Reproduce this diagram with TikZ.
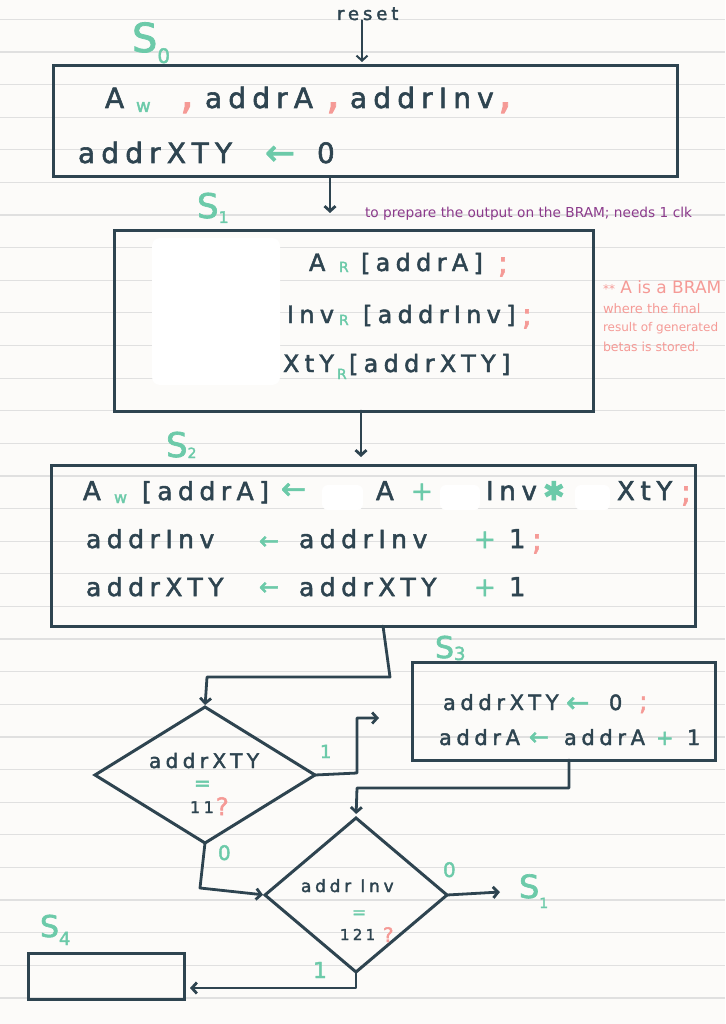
\documentclass[tikz,border=0pt]{standalone}
\usepackage{fontspec}
\setmainfont{DejaVu Sans}
\newfontfamily\hand[LetterSpace=22,FakeBold=2]{DejaVu Sans}
\newfontfamily\scrawl{DejaVu Sans}
\usetikzlibrary{shapes.geometric,arrows.meta}

\definecolor{ink}{RGB}{46,68,80}
\definecolor{mint}{RGB}{108,202,169}
\definecolor{rose}{RGB}{245,154,150}
\definecolor{plum}{RGB}{139,58,139}
\definecolor{ruling}{RGB}{224,224,224}
\definecolor{paper}{RGB}{252,251,249}

\tikzset{
  statebox/.style={draw=ink,line width=3pt,inner sep=0pt,outer sep=0pt},
  decision/.style={diamond,draw=ink,line width=3pt,inner sep=0pt,outer sep=0pt},
  flow/.style={draw=ink,line width=2.8pt,line cap=round,line join=round,-{Straight Barb[length=5pt,width=11pt]}},
  txt/.style={anchor=base west,inner sep=0pt,outer sep=0pt,text=ink},
  sz/.style={font=\hand\fontsize{#1}{#1}\selectfont},
  nt/.style={font=\scrawl\fontsize{#1}{#1}\selectfont},
}

\begin{document}
\begin{tikzpicture}[x=1pt,y=1pt,yscale=-1]
\useasboundingbox[fill=paper] (0,0) rectangle (725,1024);

% ruled paper
\foreach \k in {0,...,30}
  \draw[ruling,line width=1.2pt] (0,{19.3+32.62*\k}) -- (725,{19.3+32.62*\k});
% erased patches
\fill[white,rounded corners=8pt] (152,238) rectangle (280,385);
\fill[white,rounded corners=6pt] (322,485) rectangle (363,510);
\fill[white,rounded corners=6pt] (440,485) rectangle (480,510);
\fill[white,rounded corners=6pt] (575,485) rectangle (610,510);

% State boxes
\node[statebox,minimum width=624pt,minimum height=111pt] (s0) at (365,121.5) {};
\node[statebox,minimum width=479pt,minimum height=180pt] (s1) at (353.5,321) {};
\node[statebox,minimum width=644pt,minimum height=161pt] (s2) at (373,545.5) {};
\node[statebox,minimum width=303pt,minimum height=98pt] (s3) at (563.5,711) {};
\node[statebox,minimum width=156pt,minimum height=46pt] (s4) at (106,976) {};
% Decisions
\node[decision,minimum width=220pt,minimum height=136pt] (d1) at (205,775) {};
\node[decision,minimum width=182pt,minimum height=154pt] (d2) at (356,895) {};

% State labels
\node[txt,sz=40,text=mint] (lbs0) at (132,52) {S\raisebox{-11pt}{\fontsize{20}{20}\selectfont 0}};
\node[txt,sz=34,text=mint] (lbs1) at (197,218) {S\raisebox{-5pt}{\fontsize{16}{16}\selectfont 1}};
\node[txt,sz=34,text=mint] (lbs2) at (166,457) {S\raisebox{-1pt}{\fontsize{14}{14}\selectfont 2}};
\node[txt,sz=30,text=mint] (lbs3) at (435,658) {S\raisebox{-2pt}{\fontsize{18}{18}\selectfont 3}};
\node[txt,sz=30,text=mint] (lbs4) at (40,937) {S\raisebox{-8pt}{\fontsize{18}{18}\selectfont 4}};
\node[txt,sz=32,text=mint] (lbexit) at (519,898) {S\raisebox{-10pt}{\fontsize{14}{14}\selectfont 1}};

% Text Node: S0
\node[txt,sz=18] (reset) at (337,20) {reset};
\node[txt,sz=28] (s0a) at (105,108) {A};
\node[txt,sz=18,text=mint] (s0b) at (136,112) {w};
\node[txt,sz=44,text=rose] (s0c) at (180,108) {,};
\node[txt,sz=28] (s0d) at (205,108) {addrA};
\node[txt,sz=44,text=rose] (s0e) at (326,108) {,};
\node[txt,sz=28] (s0f) at (350,108) {addrInv};
\node[txt,sz=44,text=rose] (s0g) at (498,108) {,};
\node[txt,sz=28] (s0h) at (78,163) {addrXTY};
\node[txt,sz=36,text=mint] (s0i) at (265,165) {←};
\node[txt,sz=28] (s0j) at (317,163) {0};

% Text Node: S1
\node[txt,sz=24] (s1a) at (309,271) {A};
\node[txt,sz=14,text=mint] (s1b) at (339,272) {R};
\node[txt,sz=24] (s1c) at (361,271) {[addrA]};
\node[txt,sz=30,text=rose] (s1d) at (498,273) {;};
\node[txt,sz=24] (s1e) at (287,323) {Inv};
\node[txt,sz=14,text=mint] (s1f) at (339,325) {R};
\node[txt,sz=24] (s1g) at (363,323) {[addrInv]};
\node[txt,sz=30,text=rose] (s1h) at (522,325) {;};
\node[txt,sz=24] (s1i) at (283,372) {XtY};
\node[txt,sz=14,text=mint] (s1j) at (337,379) {R};
\node[txt,sz=24] (s1k) at (349,372) {[addrXTY]};

% Text Node: S2
\node[txt,sz=26] (s2a) at (83,500) {A};
\node[txt,sz=16,text=mint] (s2b) at (114,503) {w};
\node[txt,sz=25] (s2c) at (142,500) {[addrA]};
\node[txt,sz=30,text=mint] (s2d) at (281,499) {←};
\node[txt,sz=26] (s2e) at (376,500) {A};
\node[txt,sz=26,text=mint] (s2f) at (411,500) {+};
\node[txt,sz=26] (s2g) at (486,500) {Inv};
\node[txt,sz=26,text=mint] (s2h) at (543,500) {✱};
\node[txt,sz=26] (s2i) at (617,500) {XtY};
\node[txt,sz=30,text=rose] (s2j) at (681,502) {;};
\node[txt,sz=25] (s2k) at (86,548) {addrInv};
\node[txt,sz=24,text=mint] (s2l) at (259,549) {←};
\node[txt,sz=25] (s2m) at (299,548) {addrInv};
\node[txt,sz=26,text=mint] (s2n) at (474,548) {+};
\node[txt,sz=26] (s2o) at (509,548) {1};
\node[txt,sz=30,text=rose] (s2p) at (532,550) {;};
\node[txt,sz=25] (s2q) at (86,596) {addrXTY};
\node[txt,sz=24,text=mint] (s2r) at (259,595) {←};
\node[txt,sz=25] (s2s) at (299,596) {addrXTY};
\node[txt,sz=26,text=mint] (s2t) at (474,596) {+};
\node[txt,sz=26] (s2u) at (509,596) {1};

% Text Node: S3
\node[txt,sz=21] (s3a) at (443,710) {addrXTY};
\node[txt,sz=28,text=mint] (s3b) at (566,712) {←};
\node[txt,sz=21] (s3c) at (609,710) {0};
\node[txt,sz=26,text=rose] (s3d) at (639,710) {;};
\node[txt,sz=21] (s3e) at (439,745) {addrA};
\node[txt,sz=24,text=mint] (s3f) at (529,745) {←};
\node[txt,sz=21] (s3g) at (564,745) {addrA};
\node[txt,sz=21,text=mint] (s3h) at (656,745) {+};
\node[txt,sz=21] (s3i) at (687,745) {1};

% Text Node: decisions
\node[txt,sz=20] (d1a) at (149,768) {addrXTY};
\node[txt,sz=20,text=mint] (d1b) at (194,790) {=};
\node[txt,sz=16] (d1c) at (190,813) {11};
\node[txt,sz=24,text=rose] (d1d) at (216,815) {?};
\node[txt,sz=17] (d2a) at (301,892) {addr Inv};
\node[txt,sz=17,text=mint] (d2b) at (352,918) {=};
\node[txt,sz=15] (d2c) at (340,940) {121};
\node[txt,sz=20,text=rose] (d2d) at (383,942) {?};

% branch labels
\node[txt,sz=18,text=mint] (br1) at (320,758) {1};
\node[txt,sz=20,text=mint] (br0) at (218,860) {0};
\node[txt,sz=20,text=mint] (br2) at (443,877) {0};
\node[txt,sz=22,text=mint] (br3) at (313,978) {1};

% notes
\node[txt,nt=13.7,text=plum] (clk) at (365,218) {to prepare the output on the BRAM; needs 1 clk};
\node[txt,nt=17,text=rose] (bram) at (603,293) {\fontsize{12}{12}\selectfont **\fontsize{17}{17}\selectfont\ A is a BRAM};
\node[txt,nt=13,text=rose] (bramb) at (603,313) {where the final};
\node[txt,nt=12,text=rose] (bramc) at (603,331) {result of generated};
\node[txt,nt=12.5,text=rose] (bramd) at (603,351) {betas is stored.};

% Connection
\coordinate (rsend) at (362,62);
\draw[flow,line width=2pt] (reset.south -| rsend) -- (rsend);
% Connection
\coordinate (s1in) at (330,213);
\draw[flow] (s0.south -| s1in) -- (s1in);
% Connection
\coordinate (s2in) at (361,457);
\draw[flow] (s1.south -| s2in) -- (s2in);
% Connection
\coordinate (k1) at (390,677);
\coordinate (k2) at (207,677);
\draw[flow,shorten >=2pt] (s2.south -| 383,0) -- (k1) -- (k2) -- (d1.north);
% Connection
\coordinate (k3) at (357,773);
\coordinate (k4) at (357,718);
\coordinate (s3in) at (379,718);
\draw[flow] (d1.east) -- (k3) -- (k4) -- (s3in);
% Connection
\coordinate (k5) at (200,888);
\draw[flow,shorten >=2pt] (d1.south) -- (k5) -- (d2.west);
% Connection
\coordinate (k6) at (569,788);
\coordinate (k7) at (357,788);
\draw[flow,shorten >=4pt] (s3.south -| k6) -- (k6) -- (k7) -- (d2.north);
% Connection
\coordinate (s1out) at (500,892);
\draw[flow] (d2.east) -- (s1out);
% Connection
\coordinate (k8) at (356,988);
\draw[flow,shorten >=6pt] (d2.south) -- (k8) -- (s4.east |- k8);

\end{tikzpicture}
\end{document}
